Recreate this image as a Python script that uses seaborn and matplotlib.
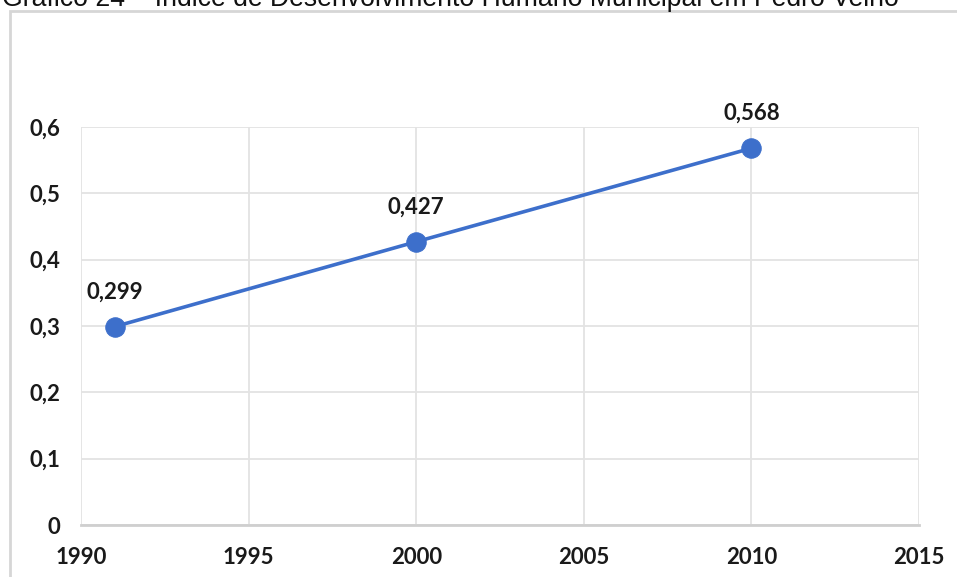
import matplotlib
matplotlib.use("Agg")
import matplotlib.pyplot as plt
import matplotlib.patches as mpatches
from matplotlib.ticker import FuncFormatter
import seaborn as sns
import pandas as pd

# IDHM de Pedro Velho
anos = [1991, 2000, 2010]
idhm = [0.299, 0.427, 0.568]
rotulos = ["0,299", "0,427", "0,568"]
x_ticks = [1990, 1995, 2000, 2005, 2010, 2015]
y_ticks = [0, 0.1, 0.2, 0.3, 0.4, 0.5, 0.6]
titulo = "Gráfico 24 – Índice de Desenvolvimento Humano Municipal em Pedro Velho"

df = pd.DataFrame({"ano": anos, "idhm": idhm})

sns.set_theme(style="whitegrid")
plt.rcParams["font.family"] = ["Lato", "DejaVu Sans"]

W, H = 957, 577
fig = plt.figure(figsize=(W / 100, H / 100), dpi=100)
ax = fig.add_axes([81 / W, 1 - 525 / H, (919 - 81) / W, (525 - 127) / H])

azul = "#3D6FCB"
sns.lineplot(data=df, x="ano", y="idhm", ax=ax, color=azul, linewidth=2.6,
             marker="o", markersize=14, markeredgecolor=azul, zorder=3)

for xa, ya, txt in zip(anos, idhm, rotulos):
    ax.annotate(txt, (xa, ya), xytext=(0, 25), textcoords="offset points",
                ha="center", va="center", fontsize=16, fontweight="bold",
                color="#1a1a1a")

ax.set_xlim(1990, 2015)
ax.set_ylim(0, 0.6)
ax.set_xticks(x_ticks)
ax.set_yticks(y_ticks)
ax.yaxis.set_major_formatter(FuncFormatter(lambda v, p: "0" if v == 0 else f"{v:.1f}".replace(".", ",")))
ax.set_xlabel("")
ax.set_ylabel("")
ax.grid(True, color="#e3e3e3", linewidth=1.3)
for s in ["left", "right", "top"]:
    ax.spines[s].set_visible(False)
ax.spines["bottom"].set_color("#cfcfcf")
ax.spines["bottom"].set_linewidth(2)
ax.tick_params(axis="both", length=0, labelsize=16, colors="#1a1a1a")
ax.tick_params(axis="y", pad=15)
ax.tick_params(axis="x", pad=16)
for lab in ax.get_xticklabels() + ax.get_yticklabels():
    lab.set_fontweight("bold")

# moldura do grafico
fig.add_artist(mpatches.Rectangle((10 / W, -0.01), 1.0, 1 - 11 / H + 0.01,
                                  transform=fig.transFigure, fill=False,
                                  edgecolor="#d6d6d6", linewidth=2))

# titulo cortado no topo
fig.text(2 / W, 1 - 6 / H, titulo, fontsize=19.2, va="baseline", ha="left",
         family=["Liberation Sans", "DejaVu Sans"], color="#111111")

fig.savefig("out.png", dpi=100, facecolor="white")
